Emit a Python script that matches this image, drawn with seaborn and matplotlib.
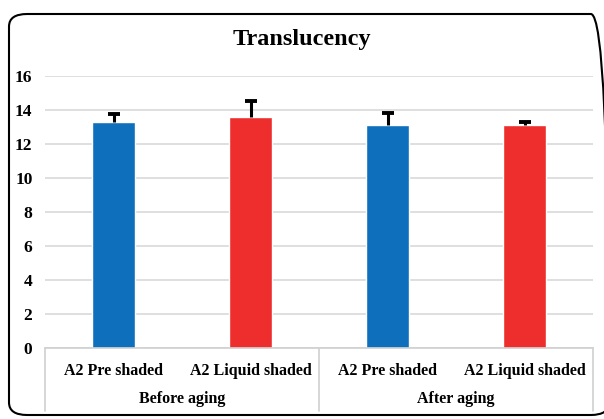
import pandas as pd
import matplotlib.pyplot as plt
import matplotlib.transforms as mtransforms
from matplotlib.patches import FancyBboxPatch
import seaborn as sns

# data
groups = ['Before aging', 'Before aging', 'After aging', 'After aging']
materials = ['A2 Pre shaded', 'A2 Liquid shaded', 'A2 Pre shaded', 'A2 Liquid shaded']
values = [13.3, 13.6, 13.1, 13.1]
errors = [0.45, 0.95, 0.7, 0.2]
group_names = ['Before aging', 'After aging']
colors = ['#0E6FBD', '#EE2D2D', '#0E6FBD', '#EE2D2D']

df = pd.DataFrame({'group': groups, 'material': materials,
                   'value': values, 'err': errors})
df['slot'] = [f'{g}|{m}' for g, m in zip(groups, materials)]
df['top'] = df['value'] + df['err']

sns.set_theme(style='white')
plt.rcParams['font.family'] = ['Liberation Serif', 'DejaVu Serif']
plt.rcParams['font.weight'] = 'bold'
plt.rcParams['text.color'] = 'black'
plt.rcParams['ytick.color'] = 'black'

fig = plt.figure(figsize=(6.04, 4.19), dpi=100)
ax = fig.add_axes([45 / 604, 1 - 348 / 419, 548 / 604, 272 / 419])

sns.barplot(data=df, x='slot', y='value', hue='slot', palette=colors,
            width=0.315, legend=False, ax=ax, errorbar=None, saturation=1)

# upper-only error bars: stem + cap on top
pos = list(range(len(df)))
ax.vlines(pos, df['value'], df['top'], color='black', linewidth=2.2, zorder=3)
ax.plot(pos, df['top'], ls='none', marker='_', ms=8, mew=2.8,
        color='black', zorder=3)

ax.set_ylim(0, 16)
ax.set_yticks(range(0, 17, 2))
ax.set_xlim(-0.5, 3.5)
ax.yaxis.grid(True, color='#D9D9D9', linewidth=1.2)
ax.set_axisbelow(True)
for s in ['top', 'right', 'left']:
    ax.spines[s].set_visible(False)
ax.spines['bottom'].set_color('#D0D0D0')
ax.spines['bottom'].set_linewidth(1.2)
ax.tick_params(axis='y', length=0, labelsize=12.5, pad=9, labelcolor='black')
for lbl in ax.get_yticklabels():
    lbl.set_fontweight('bold')
ax.set_xticks([])
ax.set_xlabel('')
ax.set_ylabel('')

# two-level category axis
trans = mtransforms.blended_transform_factory(ax.transData, ax.transAxes)
for i, m in enumerate(materials):
    ax.text(i, -0.083, m, transform=trans, ha='center', va='center',
            fontsize=11.5, fontweight='bold', color='black')
for j, g in enumerate(group_names):
    ax.text(2 * j + 0.5, -0.186, g, transform=trans, ha='center', va='center',
            fontsize=11.5, fontweight='bold', color='black')
for xv in [-0.5, 1.5, 3.5]:
    ax.plot([xv, xv], [0, -0.23], transform=trans, color='#D0D0D0',
            linewidth=1.2, clip_on=False)

fig.text(0.5, 1 - 39 / 419, 'Translucency', ha='center', va='center',
         fontsize=17.5, fontweight='bold', color='black')

# rounded frame around the chart
frame = FancyBboxPatch((9 / 604, 4 / 419), 600 / 604, 401 / 419,
                       boxstyle='round,pad=0,rounding_size=0.03',
                       transform=fig.transFigure, fill=False,
                       edgecolor='black', linewidth=1.5)
fig.patches.append(frame)

fig.savefig('out.png', dpi=100)
